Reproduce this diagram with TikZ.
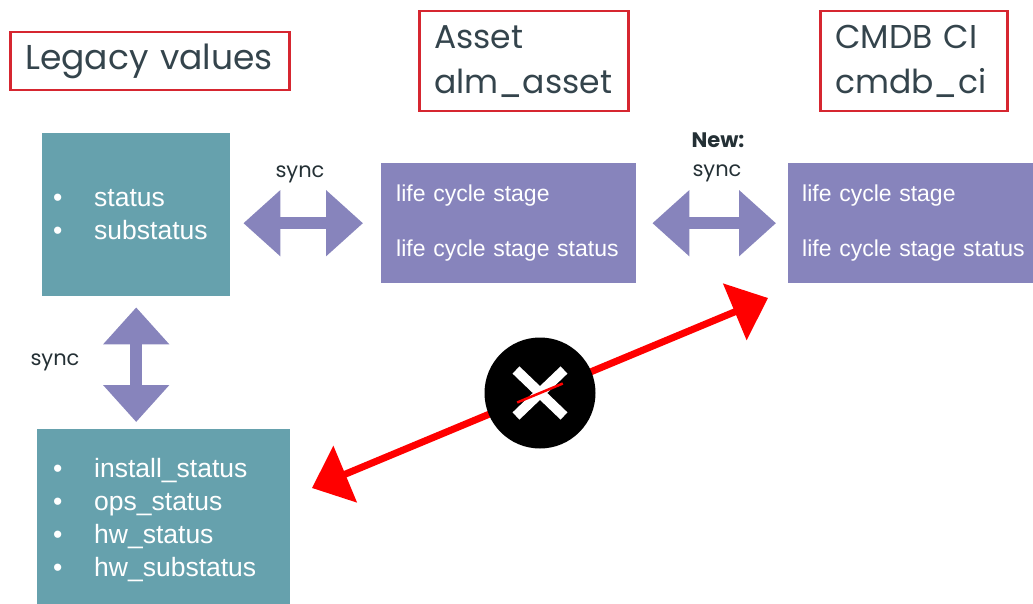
\documentclass[tikz,border=0pt]{standalone}
\usepackage{fontspec}
\setmainfont{Liberation Sans}
\newfontfamily\gothic{Poppins}
\usetikzlibrary{arrows.meta,positioning,calc}
\definecolor{legteal}{RGB}{102,161,173}
\definecolor{lilac}{RGB}{135,132,188}
\definecolor{hdrred}{RGB}{214,38,48}
\definecolor{hdrink}{RGB}{52,68,76}
\newcommand{\itm}[1]{\makebox[41pt][l]{\textbullet}#1}

\begin{document}
\begin{tikzpicture}[x=1pt, y=-1pt,
  hdr/.style={draw=hdrred, line width=2.5pt, anchor=north west, align=left,
              text=hdrink, font=\gothic\fontsize{33}{45}\selectfont, inner xsep=15pt},
  tealbox/.style={fill=legteal, anchor=north west, align=left, text=white,
                  font=\fontsize{26.5}{33}\selectfont},
  lilacbox/.style={fill=lilac, anchor=north west, align=left, text=white,
                   font=\fontsize{23}{55}\selectfont, inner xsep=15pt,
                   minimum height=120pt},
  fat/.style={draw=lilac, line width=12pt,
              {Triangle[length=37pt,width=64pt]}-{Triangle[length=37pt,width=64pt]}},
  lbl/.style={anchor=base, text=hdrink!70!black, font=\gothic\fontsize{21}{24}\selectfont},
  nope/.style={draw=red, line width=7pt,
               {Triangle[length=36pt,width=60pt]}-{Triangle[length=36pt,width=60pt]}}]
\useasboundingbox (0,0) rectangle (1033,604);

% titles
\node[hdr, text width=249pt, minimum height=58pt,
      font=\gothic\fontsize{34.5}{45}\selectfont] (legacy) at (9,31) {Legacy values};
\node[hdr, text width=179pt, minimum height=100pt] (asset) at (418,10) {Asset\\alm\_asset};
\node[hdr, text width=157pt, minimum height=100pt] (cmdb) at (819,10) {CMDB CI\\cmdb\_ci};

% boxes
\node[tealbox, inner xsep=11pt, text width=166pt, minimum height=163pt] (old)
  at (42,133) {\itm{status}\\\itm{substatus}};
\node[tealbox, inner xsep=16pt, text width=221pt, minimum height=181pt] (oldci)
  at (37,429) {\itm{install\_status}\\\itm{ops\_status}\\\itm{hw\_status}\\\itm{hw\_substatus}};
\node[lilacbox, text width=225pt] (alm) at (381,163) {life cycle stage\\life cycle stage status};
\node[lilacbox, inner xsep=14pt, text width=235pt] (ci) at (788,163) {life cycle stage\\life cycle stage status};

% sync arrows
\draw[fat, shorten <=13pt, shorten >=18pt] (old.east |- alm.west) -- (alm.west);
\draw[fat, shorten <=16pt, shorten >=12pt] (alm.east) -- (ci.west);
\draw[fat, shorten <=11pt, shorten >=7pt] (old.south) -- (old.south |- oldci.north);
\node[lbl] (s1) at (300,178) {sync};
\node[lbl] (s2) at (55,365) {sync};
\node[lbl, font=\gothic\bfseries\fontsize{21}{24}\selectfont] (new) at (718,148) {New:};
\node[lbl] (s3) at (717,177) {sync};

% no direct sync
\coordinate (xa) at (312,488);
\coordinate (xb) at (768,298);
\draw[nope] (xa) -- (xb);
\node[circle, fill=black, minimum size=111pt, inner sep=0pt] (stop) at ($(xa)!0.5!(xb)$) {};
\draw[white, line width=10pt] ([shift={(-24,-23)}]stop.center) -- ([shift={(24,23)}]stop.center)
  ([shift={(-24,23)}]stop.center) -- ([shift={(24,-23)}]stop.center);
\draw[red, line width=2.5pt] ($(xa)!0.45!(xb)$) -- ($(xa)!0.55!(xb)$);
\end{tikzpicture}
\end{document}
